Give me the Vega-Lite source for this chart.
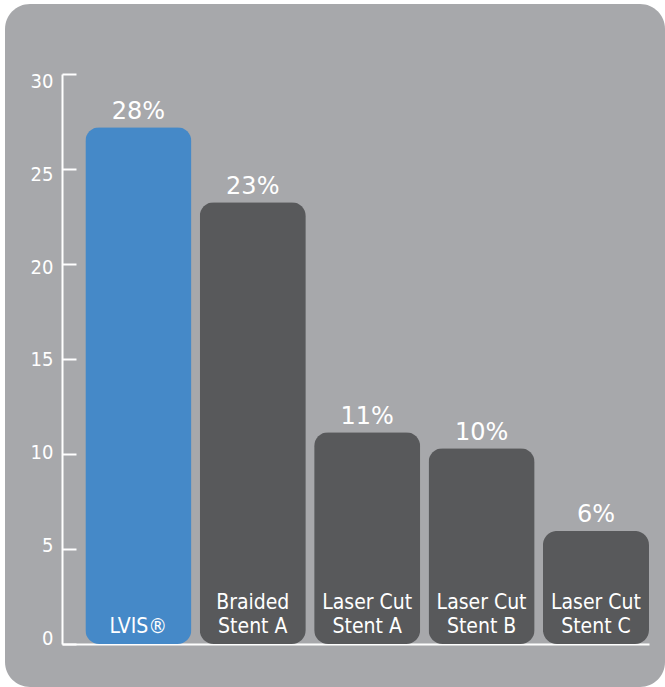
{
  "$schema": "https://vega.github.io/schema/vega-lite/v6.json",
  "width": 660,
  "height": 683,
  "autosize": {"type": "none"},
  "padding": {"left": 5, "top": 4, "right": 0, "bottom": 0},
  "background": "#ffffff",
  "config": {
    "view": {"fill": "#a7a8ab", "stroke": null, "cornerRadius": 25}
  },
  "data": {
    "values": [
      {"product": "LVIS®", "label": "\nLVIS®", "value": 27.2, "pct": "28%"},
      {"product": "Braided Stent A", "label": "Braided\nStent A", "value": 23.25, "pct": "23%"},
      {"product": "Laser Cut Stent A", "label": "Laser Cut\nStent A", "value": 11.15, "pct": "11%"},
      {"product": "Laser Cut Stent B", "label": "Laser Cut\nStent B", "value": 10.3, "pct": "10%"},
      {"product": "Laser Cut Stent C", "label": "Laser Cut\nStent C", "value": 5.95, "pct": "6%"}
    ]
  },
  "encoding": {
    "x": {
      "field": "product",
      "type": "nominal",
      "sort": null,
      "scale": {"range": [57, 644], "paddingInner": 0.073, "paddingOuter": 0.102, "align": 1},
      "axis": {
        "title": null,
        "labels": false,
        "ticks": false,
        "grid": false,
        "domainColor": "#ffffff",
        "domainWidth": 2,
        "offset": -43
      }
    }
  },
  "layer": [
    {
      "mark": {"type": "bar", "cornerRadius": 14},
      "encoding": {
        "y": {
          "field": "value",
          "type": "quantitative",
          "scale": {"domain": [0, 30], "range": [640, 70], "nice": false},
          "axis": {
            "title": null,
            "grid": false,
            "values": [0, 5, 10, 15, 20, 25, 30],
            "offset": -57,
            "domainColor": "#ffffff",
            "domainWidth": 2,
            "tickColor": "#ffffff",
            "tickWidth": 2,
            "tickSize": -14,
            "labelColor": "#ffffff",
            "labelFont": "DejaVu Sans Condensed",
            "labelFontSize": 20,
            "labelPadding": 23,
            "labelBaseline": "middle",
            "labelOffset": {"expr": "-6 + 0.45 * datum.value"}
          }
        },
        "color": {
          "condition": {"test": "datum.product === 'LVIS®'", "value": "#4589c8"},
          "value": "#58595b"
        }
      }
    },
    {
      "mark": {
        "type": "text",
        "dy": -8.5,
        "baseline": "alphabetic",
        "font": "DejaVu Sans",
        "fontSize": 24,
        "color": "#ffffff"
      },
      "encoding": {
        "y": {"field": "value", "type": "quantitative"},
        "text": {"field": "pct", "type": "nominal"}
      }
    },
    {
      "mark": {
        "type": "text",
        "lineBreak": "\n",
        "lineHeight": 24,
        "baseline": "alphabetic",
        "dy": -35,
        "font": "DejaVu Sans Condensed",
        "fontSize": 21,
        "color": "#ffffff"
      },
      "encoding": {
        "y": {"datum": 0},
        "text": {"field": "label", "type": "nominal"}
      }
    }
  ]
}
